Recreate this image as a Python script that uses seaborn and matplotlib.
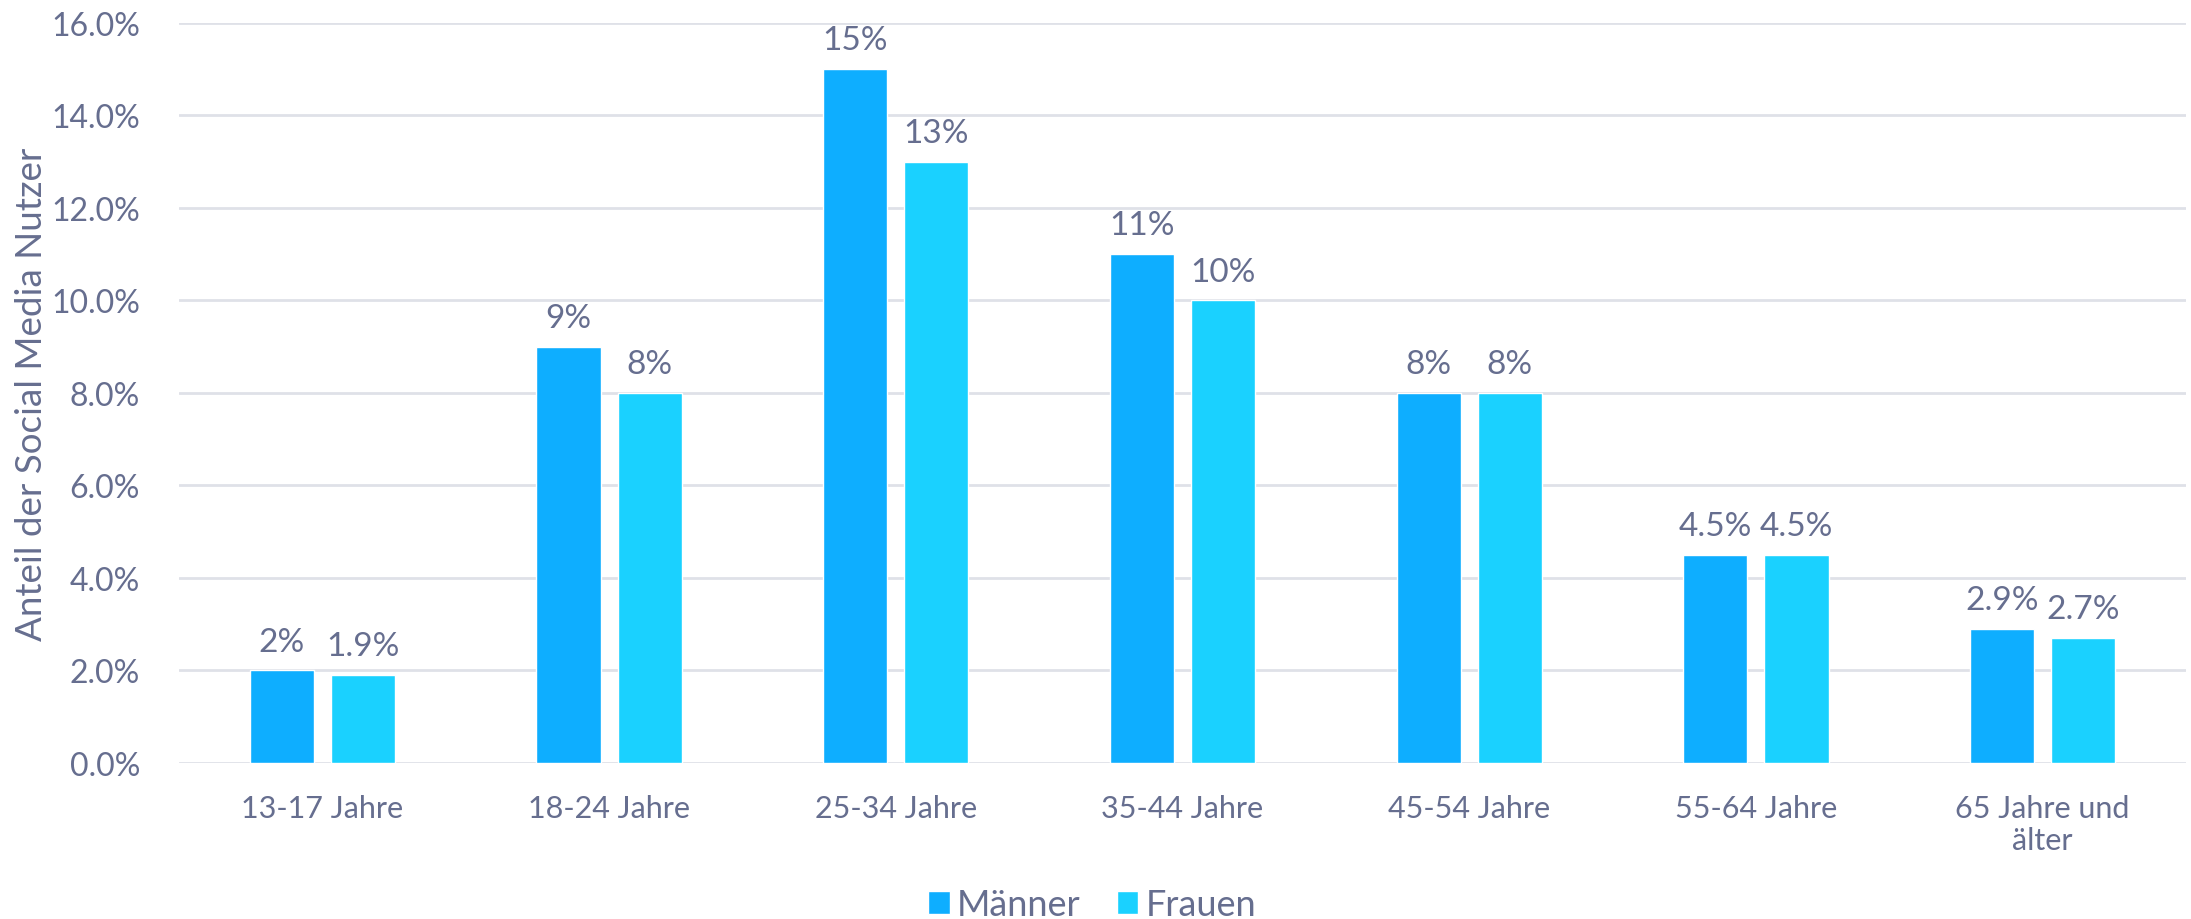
import pandas as pd
import seaborn as sns
import matplotlib.pyplot as plt
from matplotlib.ticker import FuncFormatter

# Daten
altersgruppen = ["13-17 Jahre", "18-24 Jahre", "25-34 Jahre", "35-44 Jahre",
                 "45-54 Jahre", "55-64 Jahre", "65 Jahre und\nälter"]
maenner = [2.0, 9.0, 15.0, 11.0, 8.0, 4.5, 2.9]
frauen = [1.9, 8.0, 13.0, 10.0, 8.0, 4.5, 2.7]
labels_maenner = ["2%", "9%", "15%", "11%", "8%", "4.5%", "2.9%"]
labels_frauen = ["1.9%", "8%", "13%", "10%", "8%", "4.5%", "2.7%"]

TEXT = "#666e8f"
GRID = "#dfe1e8"
FARBEN = {"Männer": "#0eaeff", "Frauen": "#1ad1ff"}

df = pd.DataFrame({
    "Altersgruppe": altersgruppen * 2,
    "Anteil": maenner + frauen,
    "Geschlecht": ["Männer"] * len(maenner) + ["Frauen"] * len(frauen),
})

sns.set_theme(style="white")
plt.rcParams["font.family"] = ["Lato", "DejaVu Sans"]

fig, ax = plt.subplots(figsize=(21.91, 9.2), dpi=100)
fig.subplots_adjust(left=0.0817, right=0.9977, top=0.974, bottom=0.1696)

sns.barplot(data=df, x="Altersgruppe", y="Anteil", hue="Geschlecht",
            palette=FARBEN, width=0.566, gap=0.21, saturation=1, ax=ax)

for cont, labs in zip(ax.containers, [labels_maenner, labels_frauen]):
    ax.bar_label(cont, labels=labs, padding=10, fontsize=24, color=TEXT)

ax.set_ylim(0, 16)
ax.set_xlim(-0.5, 6.5)
ax.set_yticks(range(0, 17, 2))
ax.yaxis.set_major_formatter(FuncFormatter(lambda v, _: f"{v:.1f}%"))
ax.grid(axis="y", color=GRID, linewidth=2)
ax.set_axisbelow(True)
for s in ax.spines.values():
    s.set_visible(False)

ax.tick_params(axis="both", length=0, labelcolor=TEXT)
ax.tick_params(axis="x", pad=22, labelsize=22)
ax.tick_params(axis="y", pad=28, labelsize=23)
ax.set_xlabel("")
ax.set_ylabel("Anteil der Social Media Nutzer", fontsize=26.5, color=TEXT, labelpad=2)

leg = ax.legend(loc="lower center", bbox_to_anchor=(0.455, -0.248), ncol=2,
                frameon=False, fontsize=26, handlelength=0.6, handleheight=0.6,
                handletextpad=0.2, columnspacing=1.0, borderpad=0.2)
for t in leg.get_texts():
    t.set_color(TEXT)

plt.savefig("out.png", dpi=100)
plt.close()
